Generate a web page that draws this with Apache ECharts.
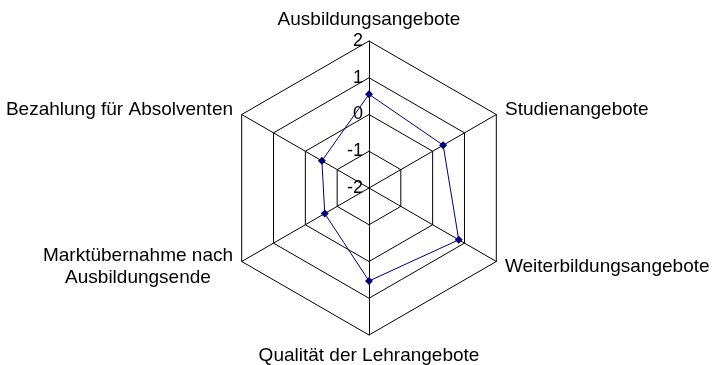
<!DOCTYPE html>
<html>
<head>
<meta charset="utf-8">
<script src="https://cdn.jsdelivr.net/npm/echarts@6/dist/echarts.min.js"></script>
<style>html,body{margin:0;padding:0;background:#fff}#c{width:715px;height:365px}</style>
</head>
<body>
<div id="c"></div>
<script>
// Listed in ECharts' counter-clockwise order (starting at the top)
const categories = ['Ausbildungsangebote', 'Bezahlung für Absolventen', 'Marktübernahme nach\nAusbildungsende', 'Qualität der Lehrangebote', 'Weiterbildungsangebote', 'Studienangebote'];
const values = [0.55, -0.52, -0.61, 0.53, 0.82, 0.33];
const axisMin = -2;
const axisMax = 2;
const splitCount = 4;

const chart = echarts.init(document.getElementById('c'), null, {renderer: 'canvas'});
const font = 'Arial, "Liberation Sans", sans-serif';
chart.setOption({
  backgroundColor: '#fff',
  animation: false,
  radar: {
    center: [369, 188],
    radius: 147,
    startAngle: 90,
    shape: 'polygon',
    splitNumber: splitCount,
    indicator: categories.map((n, i) => ({
      name: n, min: axisMin, max: axisMax,
      axisLabel: {show: i === 0}
    })),
    axisName: {
      color: '#000', fontSize: 19, fontFamily: font,
      formatter: v => v.split('\n').map(s => '{c|' + s + '}').join('\n'),
      rich: {c: {align: 'center', fontSize: 19, fontFamily: font, color: '#000', lineHeight: 22}}
    },
    nameGap: 10,
    axisLine: {lineStyle: {color: '#000', width: 1}},
    splitLine: {lineStyle: {color: '#000', width: 1}},
    splitArea: {show: false},
    axisTick: {show: false},
    axisLabel: {show: true, color: '#000', fontSize: 18, fontFamily: font, margin: 6, showMinLabel: true, showMaxLabel: true}
  },
  series: [{
    type: 'radar',
    symbol: 'diamond',
    symbolSize: 8,
    lineStyle: {color: '#000080', width: 1},
    itemStyle: {color: '#000080'},
    data: [{value: values}]
  }]
});
</script>
</body>
</html>
